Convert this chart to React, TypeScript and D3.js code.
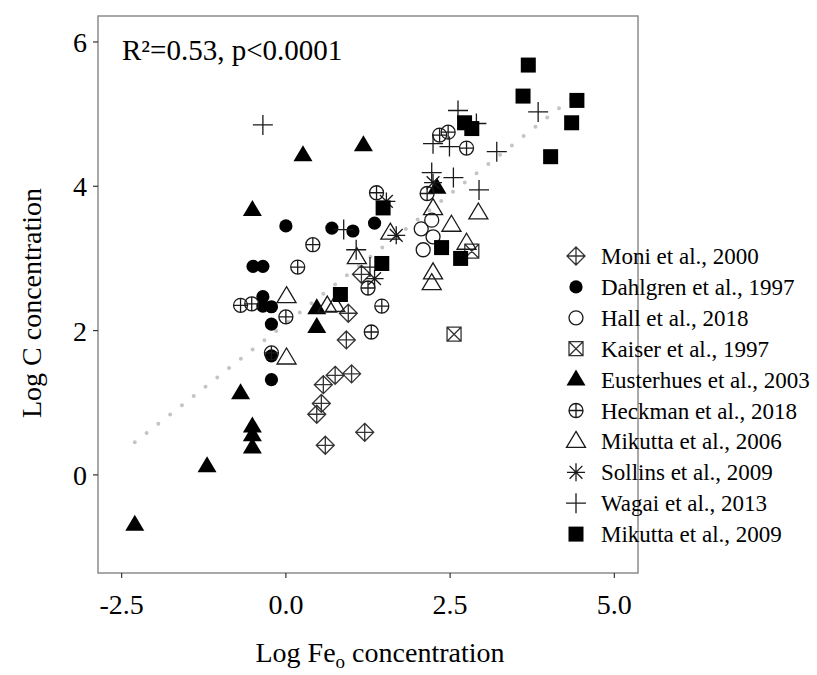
import React from "react";
import * as d3 from "d3";

type Pt = [number, number];

// ---- data (Log Fe_o, Log C) per study ----
const moni: Pt[] = [[1.15,2.78],[0.95,2.24],[0.92,1.87],[1.0,1.40],[0.75,1.38],[0.57,1.25],[0.54,0.99],[0.47,0.84],[0.60,0.41],[1.20,0.59]];
const dahlgren: Pt[] = [[0.0,3.45],[0.70,3.42],[1.02,3.38],[1.35,3.49],[-0.50,2.89],[-0.35,2.89],[-0.35,2.47],[-0.35,2.34],[-0.22,2.33],[-0.22,2.09],[-0.22,1.65],[-0.22,1.32]];
const hall: Pt[] = [[2.06,3.41],[2.22,3.53],[2.24,3.30],[2.09,3.12]];
const kaiser: Pt[] = [[2.83,3.10],[2.56,1.95]];
const eusterhues: Pt[] = [[-2.3,-0.69],[-1.2,0.12],[-0.51,0.38],[-0.51,0.55],[-0.51,0.67],[-0.69,1.13],[0.47,2.05],[0.47,2.31],[-0.51,3.67],[0.26,4.43],[1.18,4.57],[2.30,3.98]];
const heckman: Pt[] = [[2.34,4.71],[2.47,4.75],[2.75,4.53],[1.38,3.91],[2.15,3.90],[0.41,3.19],[0.18,2.88],[1.25,2.59],[1.46,2.34],[1.30,1.98],[-0.69,2.35],[-0.52,2.37],[0.0,2.19],[-0.22,1.69]];
const mikutta2006: Pt[] = [[0.01,2.47],[0.01,1.62],[0.63,2.34],[0.75,2.35],[1.08,3.01],[1.59,3.35],[2.24,3.69],[2.52,3.46],[2.93,3.63],[2.75,3.21],[2.24,2.80],[2.22,2.65]];
const sollins: Pt[] = [[2.24,4.05],[1.53,3.79],[1.35,2.72],[1.68,3.32]];
const wagai: Pt[] = [[-0.35,4.85],[2.62,5.05],[2.90,4.87],[3.84,5.03],[3.21,4.48],[2.24,4.59],[2.49,4.55],[2.22,4.19],[2.55,4.12],[2.94,3.95],[0.88,3.40],[1.07,3.12],[1.28,2.88]];
const mikutta2009: Pt[] = [[3.69,5.68],[3.61,5.25],[4.43,5.19],[4.35,4.88],[4.03,4.41],[2.72,4.88],[2.83,4.80],[1.48,3.70],[1.46,2.93],[0.83,2.50],[2.37,3.15],[2.66,3.00]];

const seriesNames = [
  "Moni et al., 2000",
  "Dahlgren et al., 1997",
  "Hall et al., 2018",
  "Kaiser et al., 1997",
  "Eusterhues et al., 2003",
  "Heckman et al., 2018",
  "Mikutta et al., 2006",
  "Sollins et al., 2009",
  "Wagai et al., 2013",
  "Mikutta et al., 2009",
];
const seriesData: Pt[][] = [moni, dahlgren, hall, kaiser, eusterhues, heckman, mikutta2006, sollins, wagai, mikutta2009];
const seriesShapes = ["diamondPlus", "dot", "circle", "squareX", "triFilled", "circlePlus", "tri", "star", "plus", "squareFilled"];

const xTicks = [-2.5, 0, 2.5, 5];
const xTickLabels = ["-2.5", "0.0", "2.5", "5.0"];
const yTicks = [0, 2, 4, 6];
const yTickLabels = ["0", "2", "4", "6"];

const fitSlope = 0.717;
const fitIntercept = 2.1;
const statText = "R²=0.53, p<0.0001";

// ---- layout ----
const W = 817;
const H = 675;
const PL = 98, PR = 638, PT = 16, PB = 573;
const FONT = "'Liberation Serif', 'Times New Roman', serif";
const INK = "#1a1a1a";

const x = d3.scaleLinear().domain([-2.86, 5.36]).range([PL, PR]);
const y = d3.scaleLinear().domain([-1.36, 6.36]).range([PB, PT]);

function Sym({ shape, cx, cy }: { shape: string; cx: number; cy: number }) {
  const sw = 1.3;
  const t = `translate(${cx},${cy})`;
  switch (shape) {
    case "diamondPlus":
      return <path transform={t} d="M0,-9L9,0L0,9L-9,0Z M0,-9V9 M-9,0H9" fill="none" stroke="#333" strokeWidth={sw} />;
    case "dot":
      return <circle cx={cx} cy={cy} r={6.6} fill="#000" />;
    case "circle":
      return <circle cx={cx} cy={cy} r={7} fill="none" stroke={INK} strokeWidth={sw} />;
    case "squareX":
      return <path transform={t} d="M-7,-7H7V7H-7Z M-7,-7L7,7 M7,-7L-7,7" fill="none" stroke="#333" strokeWidth={sw} />;
    case "triFilled":
      return <path transform={t} d="M0,-10L9.5,6L-9.5,6Z" fill="#000" />;
    case "circlePlus":
      return <path transform={t} d="M-7,0A7,7 0 1,0 7,0A7,7 0 1,0 -7,0Z M0,-7V7 M-7,0H7" fill="none" stroke={INK} strokeWidth={sw} />;
    case "tri":
      return <path transform={t} d="M0,-10L9.5,6L-9.5,6Z" fill="none" stroke={INK} strokeWidth={sw} />;
    case "star":
      return <path transform={t} d="M0,-9V9 M-9,0H9 M-6.4,-6.4L6.4,6.4 M6.4,-6.4L-6.4,6.4" fill="none" stroke={INK} strokeWidth={sw} />;
    case "plus":
      return <path transform={t} d="M0,-10V10 M-10,0H10" fill="none" stroke={INK} strokeWidth={sw} />;
    case "squareFilled":
      return <rect x={cx - 7.5} y={cy - 7.5} width={15} height={15} fill="#000" />;
    default:
      return null;
  }
}

export default function App() {
  const allX = seriesData.flat().map((d) => d[0]);
  const [xmin, xmax] = d3.extent(allX) as [number, number];
  const fitPts: Pt[] = [[xmin, fitIntercept + fitSlope * xmin], [xmax, fitIntercept + fitSlope * xmax]];
  const line = d3.line<Pt>().x((d) => x(d[0])).y((d) => y(d[1]));

  const legX = 576, legY0 = 256, legStep = 30.9;

  return (
    <svg width={W} height={H} style={{ position: "absolute", left: 0, top: 0, background: "#fff" }} fontFamily={FONT}>
      <rect x={0} y={0} width={W} height={H} fill="#fff" />
      {/* panel */}
      <rect x={PL} y={PT} width={PR - PL} height={PB - PT} fill="none" stroke="#8c8c8c" strokeWidth={1.5} />
      {/* ticks */}
      {xTicks.map((t, i) => (
        <g key={"xt" + i}>
          <line x1={x(t)} x2={x(t)} y1={PB} y2={PB + 5} stroke="#333" strokeWidth={1.2} />
          <text x={x(t)} y={PB + 41} textAnchor="middle" fontSize={28} fill="#000">{xTickLabels[i]}</text>
        </g>
      ))}
      {yTicks.map((t, i) => (
        <g key={"yt" + i}>
          <line x1={PL - 5} x2={PL} y1={y(t)} y2={y(t)} stroke="#333" strokeWidth={1.2} />
          <text x={PL - 11} y={y(t) + 10} textAnchor="end" fontSize={28} fill="#000">{yTickLabels[i]}</text>
        </g>
      ))}
      {/* axis titles */}
      <text x={380} y={662} textAnchor="middle" fontSize={28} fill="#000">
        Log Fe<tspan fontSize={19} dy={6}>o</tspan><tspan dy={-6}> concentration</tspan>
      </text>
      <text transform={`translate(41,303) rotate(-90)`} textAnchor="middle" fontSize={28} fill="#000">
        Log C concentration
      </text>
      {/* regression */}
      <path d={line(fitPts) || ""} fill="none" stroke="#c4c4c4" strokeWidth={4} strokeLinecap="round" strokeDasharray="0 15" />
      {/* points */}
      {seriesData.map((pts, si) => (
        <g key={"s" + si}>
          {pts.map((d, i) => (
            <Sym key={i} shape={seriesShapes[si]} cx={x(d[0])} cy={y(d[1])} />
          ))}
        </g>
      ))}
      {/* stat */}
      <text x={122} y={60} fontSize={29} fill="#000">{statText}</text>
      {/* legend */}
      {seriesNames.map((n, i) => (
        <g key={"l" + i}>
          <Sym shape={seriesShapes[i]} cx={legX} cy={legY0 + i * legStep} />
          <text x={601} y={legY0 + i * legStep + 8} fontSize={23} fill="#000">{n}</text>
        </g>
      ))}
    </svg>
  );
}
